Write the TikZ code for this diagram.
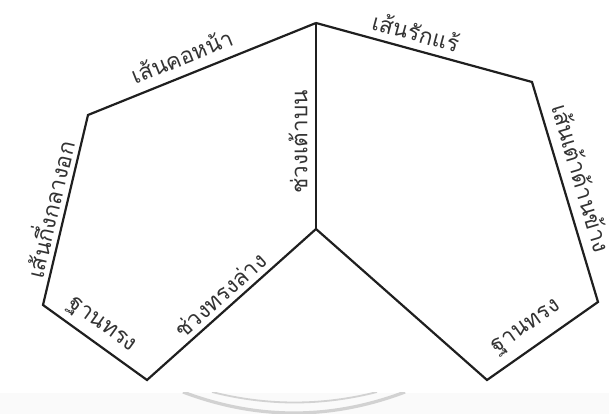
\documentclass[tikz,border=0pt]{standalone}
\usepackage{fontspec}
\newfontfamily\thaifont[Script=Thai]{Loma}

\begin{document}
\begin{tikzpicture}[x=1pt,y=1pt,
  seam/.style={draw=black!88, line width=2.2pt, line join=miter},
  lbl/.style={font=\thaifont\fontsize{22.5}{26}\selectfont, text=black!80, inner sep=0pt}]
\useasboundingbox (0,0) rectangle (609,414);

% Watermark at the bottom
\fill[gray!4] (0,0) rectangle (609,21);
\begin{scope}
  \clip (0,0) rectangle (609,21);
  \draw[gray!35, line width=3.2pt] (183,22) .. controls (257,-6) and (331,-6) .. (405,22);
  \draw[gray!35, line width=1.8pt] (212,22) .. controls (267,8) and (322,8) .. (377,22);
\end{scope}

% Corner points
\coordinate (top) at (316,391);
\coordinate (mid) at (316,185);
\coordinate (neckL) at (88,299);
\coordinate (hemL) at (43,109);
\coordinate (botL) at (147,34);
\coordinate (armR) at (532,332);
\coordinate (hemR) at (598,112);
\coordinate (botR) at (487,34);

% Seams
\draw[seam] (top) -- (neckL) -- (hemL) -- (botL) -- (mid);
\draw[seam] (mid) -- (top);
\draw[seam] (top) -- (armR) -- (hemR) -- (botR) -- (mid);

% Left panel labels
\node[lbl, rotate=21.9] (neckLbl) at (182,358) {เส้นคอหน้า};
\node[lbl, rotate=76.7] (chestLbl) at (48,205) {เส้นกึ่งกลางอก};
\node[lbl, rotate=-35.8] (baseLLbl) at (101,88) {ฐานทรง};
\node[lbl, rotate=41.8] (lowLbl) at (220,119) {ช่วงทรงล่าง};

% Centre label
\node[lbl, rotate=90] (upLbl) at (298,272) {ช่วงเต้าบน};

% Right panel labels
\node[lbl, rotate=-15.3] (armLbl) at (416,382) {เส้นรักแร้};
\node[lbl, rotate=-73.3] (sideLbl) at (582,236) {เส้นเต้าด้านข้าง};
\node[lbl, rotate=35.1] (baseRLbl) at (527,86) {ฐานทรง};

\end{tikzpicture}
\end{document}
